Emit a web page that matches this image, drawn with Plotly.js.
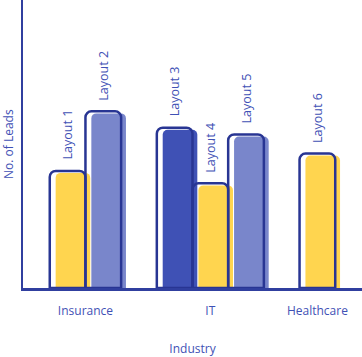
<!DOCTYPE html>
<html>
<head>
<meta charset="utf-8">
<script src="https://cdn.plot.ly/plotly-3.0.1.min.js"></script>
<style>html,body{margin:0;padding:0;background:#fff;}#chart{width:362px;height:357px;}</style>
</head>
<body>
<div id="chart"></div>
<script>
// ---- data ----
var industries = ["Insurance", "IT", "Healthcare"];
var layoutNames = ["Layout 1", "Layout 2", "Layout 3", "Layout 4", "Layout 5", "Layout 6"];
var layoutIndustry = ["Insurance", "Insurance", "IT", "IT", "IT", "Healthcare"];
var leads = [122, 184, 167, 109, 160, 140];
var yTitle = "No. of Leads";
var xTitle = "Industry";

// ---- style ----
var fillColors = ["#FFD54F", "#7986CB", "#3F51B5", "#FFD54F", "#7986CB", "#FFD54F"];
var outlineColor = "#283593";
var textColor = "#3F51B5";
var axisColor = "#303F9F";
var fontFamily = "Open Sans, sans-serif";

// positions: adjacent bars within an industry, one empty slot between industries
var pos = [];
var p = 0;
for (var i = 0; i < layoutNames.length; i++) {
  if (i > 0) p += (layoutIndustry[i] === layoutIndustry[i - 1]) ? 1 : 2;
  pos.push(p);
}
var centers = industries.map(function (ind) {
  var s = 0, n = 0;
  for (var i = 0; i < pos.length; i++) if (layoutIndustry[i] === ind) { s += pos[i]; n++; }
  return s / n;
});

var xr = [-1.25, 8.25];
var yr = [0, 300];
var fillShiftX = 0.15;   // shadow fill offset to the right
var fillShiftY = 2.1;    // shadow fill offset downward

var fills = {
  type: "bar", x: pos, y: leads, xaxis: "x", yaxis: "y",
  width: 0.97,
  marker: { color: fillColors, line: { width: 0 }, cornerradius: 5 },
  hoverinfo: "skip", showlegend: false
};
var outlines = {
  type: "bar", x: pos, y: leads, xaxis: "x2", yaxis: "y2",
  width: 1,
  marker: { color: "rgba(0,0,0,0)", line: { width: 2.5, color: outlineColor }, cornerradius: 6 },
  text: layoutNames, textposition: "none",
  hoverinfo: "skip", showlegend: false
};

var annotations = layoutNames.map(function (name, i) {
  return {
    x: pos[i], y: leads[i], xref: "x2", yref: "y2",
    text: name, showarrow: false, textangle: -90,
    xanchor: "center", yanchor: "bottom", yshift: 9,
    font: { family: fontFamily, size: 12.5, color: textColor }
  };
});
// y-axis title
annotations.push({
  x: 0, y: 0.5, xref: "paper", yref: "paper", xshift: -15,
  text: yTitle, showarrow: false, textangle: -90,
  xanchor: "center", yanchor: "middle",
  font: { family: fontFamily, size: 12, color: textColor }
});

var layout = {
  width: 362, height: 357,
  margin: { l: 23, r: 0, t: 0, b: 69, pad: 0 },
  paper_bgcolor: "#fff", plot_bgcolor: "#fff",
  barmode: "overlay",
  font: { family: fontFamily, size: 12, color: textColor },
  xaxis: {
    range: [xr[0] - fillShiftX, xr[1] - fillShiftX],
    showline: true, linecolor: axisColor, linewidth: 2.5,
    showgrid: false, zeroline: false, showticklabels: false, ticks: ""
  },
  yaxis: {
    range: [yr[0] + fillShiftY, yr[1] + fillShiftY],
    showline: true, linecolor: axisColor, linewidth: 2.5,
    showgrid: false, zeroline: false, showticklabels: false, ticks: "",
    automargin: false
  },
  xaxis2: {
    overlaying: "x", anchor: "y2", side: "bottom",
    range: xr, showline: false, showgrid: false, zeroline: false, ticks: "",
    tickmode: "array", tickvals: centers, ticktext: industries,
    tickfont: { family: fontFamily, size: 12, color: textColor },
    ticklabelstandoff: 14,
    title: { text: xTitle, font: { family: fontFamily, size: 12, color: textColor }, standoff: 31 },
    automargin: false
  },
  yaxis2: {
    overlaying: "y", anchor: "x2", range: yr, visible: false
  },
  annotations: annotations
};

Plotly.newPlot("chart", [fills, outlines], layout, { displayModeBar: false, staticPlot: true });
</script>
</body>
</html>
